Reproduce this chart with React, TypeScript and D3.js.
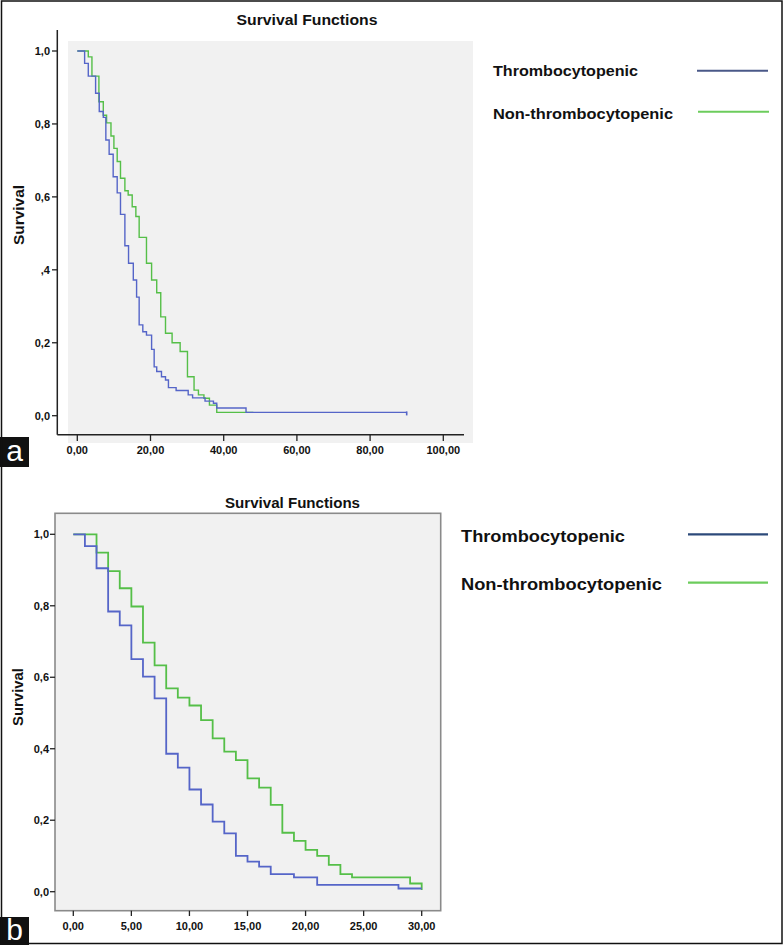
import React from "react";
import * as d3 from "d3";

// Panel a
const timesA_thrombo = [0,2,3,5,6,7.1,7.8,8.7,9.8,10.9,11.8,13,14,15.3,16.2,16.9,17.9,18.9,20.3,21,21.7,23,24.1,24.9,27,30.3,31.5,34.9,37.2,38.1,46.1,90];
const survA_thrombo = [1,0.966,0.931,0.884,0.834,0.818,0.756,0.717,0.655,0.611,0.552,0.466,0.418,0.372,0.325,0.249,0.230,0.221,0.182,0.134,0.121,0.107,0.098,0.077,0.069,0.057,0.049,0.040,0.034,0.021,0.009,0.009];
const timesA_non = [0,3,4,5.9,7.1,8,9.2,10,10.9,11.8,13,13.9,15,16,16.9,18.9,20.3,21.7,22.8,24.1,25.9,28.1,30.1,31.9,33.1,34.6,36.1,38.1,48.1];
const survA_non = [1,0.984,0.931,0.861,0.824,0.803,0.767,0.733,0.697,0.651,0.617,0.605,0.573,0.546,0.489,0.418,0.372,0.337,0.271,0.226,0.200,0.176,0.107,0.070,0.057,0.048,0.029,0.009,0.009];
const xTicksA = [0,20,40,60,80,100];
const xTickLabelsA = ["0,00","20,00","40,00","60,00","80,00","100,00"];
const yTicksA = [0,0.2,0.4,0.6,0.8,1];
const yTickLabelsA = ["0,0","0,2",",4","0,6","0,8","1,0"];

// Panel b
const timesB_thrombo = [0,1,2,3,4,5,6,7,8,9,10,11,12,13,14,15,16,17,19,21,28,30];
const survB_thrombo = [1,0.967,0.905,0.784,0.745,0.651,0.602,0.541,0.386,0.347,0.286,0.244,0.196,0.163,0.100,0.084,0.070,0.049,0.040,0.019,0.009,0.009];
const timesB_non = [0,2,3,4,5,6,7,8,9,10,11,12,13,14,15,16,17,18,19,20,21,22,23,24,29,30];
const survB_non = [1,0.949,0.897,0.849,0.798,0.697,0.633,0.569,0.543,0.521,0.480,0.429,0.392,0.368,0.317,0.291,0.243,0.165,0.142,0.117,0.100,0.075,0.049,0.040,0.023,0.005];
const xTicksB = [0,5,10,15,20,25,30];
const xTickLabelsB = ["0,00","5,00","10,00","15,00","20,00","25,00","30,00"];
const yTicksB = [0,0.2,0.4,0.6,0.8,1];
const yTickLabelsB = ["0,0","0,2","0,4","0,6","0,8","1,0"];

const seriesNames = ["Thrombocytopenic", "Non-thrombocytopenic"];
const title = "Survival Functions";
const yLabel = "Survival";

const FONT = "'Liberation Sans', Arial, sans-serif";
const BLUE = "#5565c8";
const GREEN = "#55bf48";

function zip(t: number[], s: number[]) {
  return t.map((v, i) => [v, s[i]] as [number, number]);
}

export default function App() {
  const xA = d3.scaleLinear().domain([0, 100]).range([77.3, 443.3]);
  const yA = d3.scaleLinear().domain([0, 1]).range([415.7, 51]);
  const xB = d3.scaleLinear().domain([0, 30]).range([73.3, 421.7]);
  const yB = d3.scaleLinear().domain([0, 1]).range([891.7, 534.3]);

  const lineA = d3.line<[number, number]>().x(d => xA(d[0])).y(d => yA(d[1])).curve(d3.curveStepAfter);
  const lineB = d3.line<[number, number]>().x(d => xB(d[0])).y(d => yB(d[1])).curve(d3.curveStepAfter);

  const tickText = { fontFamily: FONT, fontWeight: 700, fontSize: 11, fill: "#111" } as const;

  const lastA = timesA_thrombo.length - 1;

  return (
    <svg width={783} height={945} style={{ position: "absolute", left: 0, top: 0, background: "#fff" }}>
      {/* ===== Panel a ===== */}
      <rect x={68} y={41} width={405} height={402} fill="#f1f1f1" />
      <text x={307} y={25} textAnchor="middle" textLength={141} lengthAdjust="spacingAndGlyphs"
        style={{ fontFamily: FONT, fontWeight: 700, fontSize: 14, fill: "#111" }}>{title}</text>
      <line x1={57.3} x2={57.3} y1={30} y2={434.7} stroke="#222" strokeWidth={1.5} />
      <line x1={57.3} x2={464} y1={434.7} y2={434.7} stroke="#222" strokeWidth={1.5} />
      {yTicksA.map((t, i) => (
        <g key={"ya" + i}>
          <line x1={52} x2={57.3} y1={yA(t)} y2={yA(t)} stroke="#222" strokeWidth={1.3} />
          <text x={50} y={yA(t) + 4} textAnchor="end" style={tickText}>{yTickLabelsA[i]}</text>
        </g>
      ))}
      {xTicksA.map((t, i) => (
        <g key={"xa" + i}>
          <line x1={xA(t)} x2={xA(t)} y1={434.7} y2={441} stroke="#222" strokeWidth={1.3} />
          <text x={xA(t)} y={454} textAnchor="middle" style={tickText}>{xTickLabelsA[i]}</text>
        </g>
      ))}
      <text transform="translate(24,215) rotate(-90)" textAnchor="middle" textLength={60} lengthAdjust="spacingAndGlyphs"
        style={{ fontFamily: FONT, fontWeight: 700, fontSize: 15, fill: "#111" }}>{yLabel}</text>
      <path d={lineA(zip(timesA_non, survA_non)) || ""} fill="none" stroke={GREEN} strokeWidth={1.4} />
      <path d={lineA(zip(timesA_thrombo, survA_thrombo)) || ""} fill="none" stroke={BLUE} strokeWidth={1.4} />
      <line x1={xA(timesA_thrombo[lastA])} x2={xA(timesA_thrombo[lastA])}
        y1={yA(survA_thrombo[lastA]) - 1} y2={yA(survA_thrombo[lastA]) + 3} stroke={BLUE} strokeWidth={1.6} />

      {/* Legend a */}
      <text x={493} y={76} textLength={145} lengthAdjust="spacingAndGlyphs"
        style={{ fontFamily: FONT, fontWeight: 700, fontSize: 15, fill: "#111" }}>{seriesNames[0]}</text>
      <line x1={697} x2={768} y1={70.7} y2={70.7} stroke="#4a5888" strokeWidth={2} />
      <text x={493} y={119} textLength={180} lengthAdjust="spacingAndGlyphs"
        style={{ fontFamily: FONT, fontWeight: 700, fontSize: 15, fill: "#111" }}>{seriesNames[1]}</text>
      <line x1={698} x2={769} y1={111.7} y2={111.7} stroke="#6ccc5c" strokeWidth={2} />

      <rect x={0} y={437} width={29} height={30} fill="#111" />
      <text x={14.5} y={461} textAnchor="middle" style={{ fontFamily: FONT, fontSize: 30, fill: "#fff" }}>a</text>

      {/* ===== Panel b ===== */}
      <rect x={55} y={513.3} width={385.7} height={397.4} fill="#f1f1f1" stroke="#8a8a8a" strokeWidth={1.6} />
      <text x={292.5} y={508} textAnchor="middle" textLength={135} lengthAdjust="spacingAndGlyphs"
        style={{ fontFamily: FONT, fontWeight: 700, fontSize: 14, fill: "#111" }}>{title}</text>
      {yTicksB.map((t, i) => (
        <g key={"yb" + i}>
          <line x1={50} x2={55} y1={yB(t)} y2={yB(t)} stroke="#222" strokeWidth={1.3} />
          <text x={49} y={yB(t) + 4} textAnchor="end" style={tickText}>{yTickLabelsB[i]}</text>
        </g>
      ))}
      {xTicksB.map((t, i) => (
        <g key={"xb" + i}>
          <line x1={xB(t)} x2={xB(t)} y1={910.7} y2={916} stroke="#222" strokeWidth={1.3} />
          <text x={xB(t)} y={930} textAnchor="middle" style={tickText}>{xTickLabelsB[i]}</text>
        </g>
      ))}
      <text transform="translate(23,697) rotate(-90)" textAnchor="middle" textLength={58} lengthAdjust="spacingAndGlyphs"
        style={{ fontFamily: FONT, fontWeight: 700, fontSize: 15, fill: "#111" }}>{yLabel}</text>
      <path d={lineB(zip(timesB_non, survB_non)) || ""} fill="none" stroke={GREEN} strokeWidth={1.8} />
      <path d={lineB(zip(timesB_thrombo, survB_thrombo)) || ""} fill="none" stroke={BLUE} strokeWidth={1.8} />

      {/* Legend b */}
      <text x={461} y={541.7} textLength={164} lengthAdjust="spacingAndGlyphs"
        style={{ fontFamily: FONT, fontWeight: 700, fontSize: 17, fill: "#111" }}>{seriesNames[0]}</text>
      <line x1={688} x2={768} y1={534.3} y2={534.3} stroke="#2c4a7a" strokeWidth={2.2} />
      <text x={461} y={590} textLength={201} lengthAdjust="spacingAndGlyphs"
        style={{ fontFamily: FONT, fontWeight: 700, fontSize: 17, fill: "#111" }}>{seriesNames[1]}</text>
      <line x1={688} x2={768} y1={582.7} y2={582.7} stroke="#6ccc5c" strokeWidth={2.2} />

      <rect x={0} y={917} width={29} height={28} fill="#111" />
      <text x={14.5} y={940} textAnchor="middle" style={{ fontFamily: FONT, fontSize: 30, fill: "#fff" }}>b</text>

      {/* outer frame */}
      <rect x={1.5} y={1} width={780.5} height={942.5} fill="none" stroke="#111" strokeWidth={1.5} />
    </svg>
  );
}
